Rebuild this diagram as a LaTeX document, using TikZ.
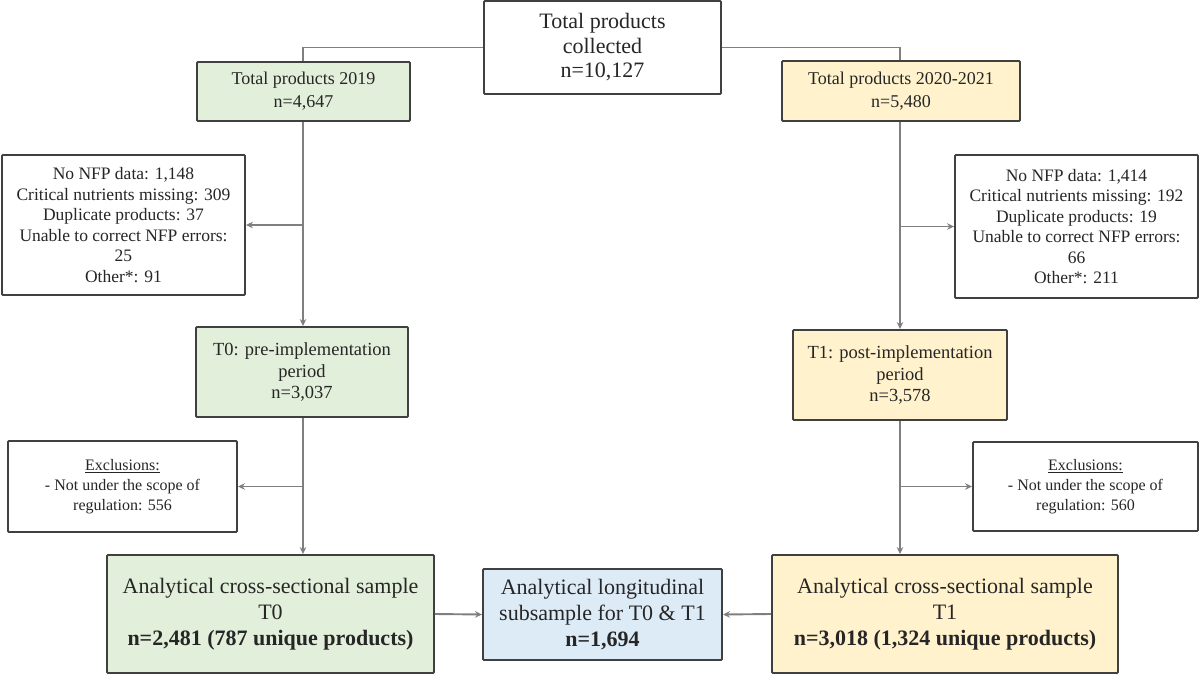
\documentclass[tikz,border=0pt]{standalone}
\usepackage{fontspec}
\setmainfont{Liberation Serif}
\usetikzlibrary{arrows.meta,positioning,calc}

\definecolor{fillgreen}{HTML}{E2EFDA}
\definecolor{fillyellow}{HTML}{FFF2CC}
\definecolor{fillblue}{HTML}{DDEBF7}
\definecolor{edgegray}{HTML}{404040}
\definecolor{linkgray}{HTML}{7F7F7F}

\begin{document}
\begin{tikzpicture}[
  x=1pt, y=-1pt,
  >={Stealth[length=7pt, width=6.5pt]},
  box/.style={draw=edgegray, line width=1.9pt, align=center, inner sep=2pt,
              rounded corners=1pt, text=black!85},
  dims/.style 2 args={minimum width=#1pt, minimum height=#2pt},
  total/.style={box, fill=white, font=\fontsize{22}{24.5}\selectfont},
  year19/.style={box, fill=fillgreen, font=\fontsize{18}{23}\selectfont},
  year21/.style={box, fill=fillyellow, font=\fontsize{18}{23}\selectfont},
  drop/.style={box, fill=white, font=\fontsize{17.5}{20.5}\selectfont},
  period19/.style={box, fill=fillgreen, font=\fontsize{18.5}{21.5}\selectfont},
  period21/.style={box, fill=fillyellow, font=\fontsize{18.5}{21.5}\selectfont},
  scope/.style={box, fill=white, font=\fontsize{16}{20}\selectfont},
  sample19/.style={box, fill=fillgreen, font=\fontsize{22}{26}\selectfont},
  sample21/.style={box, fill=fillyellow, font=\fontsize{22}{26}\selectfont},
  longit/.style={box, fill=fillblue, font=\fontsize{22}{26}\selectfont},
  link/.style={draw=linkgray, line width=1.9pt}
]
\useasboundingbox (0,0) rectangle (1200,675);

% the two study periods run down these two columns
\coordinate (colL) at (303,0);
\coordinate (colR) at (900,0);

\node[total, dims={237}{93}] (collected) at (602.5,47.5)
  {Total products\\collected\\n=10,127};

\node[year19, dims={213}{59}] (tot19) at (303.5,91.5) {Total products 2019\\n=4,647};
\node[year21, dims={238}{60}] (tot21) at (901,91) {Total products 2020-2021\\n=5,480};

\node[drop, dims={243}{140}] (drop19) at (123.5,225)
  {No NFP data: 1,148\\Critical nutrients missing: 309\\Duplicate products: 37\\
   Unable to correct NFP errors:\\25\\Other*: 91};
\node[drop, dims={243}{143}] (drop21) at (1076.5,226.5)
  {No NFP data: 1,414\\Critical nutrients missing: 192\\Duplicate products: 19\\
   Unable to correct NFP errors:\\66\\Other*: 211};

\node[period19, dims={212}{90}] (t0) at (302,372) {T0: pre-implementation\\period\\n=3,037};
\node[period21, dims={214}{90}] (t1) at (900,375) {T1: post-implementation\\period\\n=3,578};

\node[scope, dims={229}{91}] (scope19) at (122.5,486.5)
  {\underline{Exclusions:}\\- Not under the scope of\\regulation: 556};
\node[scope, dims={225}{89}] (scope21) at (1085.5,486.5)
  {\underline{Exclusions:}\\- Not under the scope of\\regulation: 560};

\node[sample19, dims={327}{118}] (cross0) at (270.5,614)
  {Analytical cross-sectional sample\\T0\\\textbf{n=2,481 (787 unique products)}};
\node[sample21, dims={346}{118}] (cross1) at (945,614)
  {Analytical cross-sectional sample\\T1\\\textbf{n=3,018 (1,324 unique products)}};
\node[longit, dims={239}{91}] (longsub) at (602.5,614.5)
  {Analytical longitudinal\\subsample for T0 \& T1\\\textbf{n=1,694}};

% split of the collected products
\draw[link] (collected.west) -| (tot19.north -| colL);
\draw[link] (collected.east) -| (tot21.north -| colR);

\draw[link, ->] (tot19.south -| colL) -- (t0.north -| colL);
\draw[link, ->] (tot21.south -| colR) -- (t1.north -| colR);
\draw[link, ->] (drop19.east -| colL) -- (drop19.east);
\draw[link, ->] (drop21.west -| colR) -- (drop21.west);

\draw[link, ->] (t0.south -| colL) -- (cross0.north -| colL);
\draw[link, ->] (t1.south -| colR) -- (cross1.north -| colR);
\draw[link, ->] (scope19.east -| colL) -- (scope19.east);
\draw[link, ->] (scope21.west -| colR) -- (scope21.west);

\draw[link, ->] (cross0.east) -- (longsub.west);
\draw[link, ->] (cross1.west) -- (longsub.east);

\end{tikzpicture}
\end{document}
